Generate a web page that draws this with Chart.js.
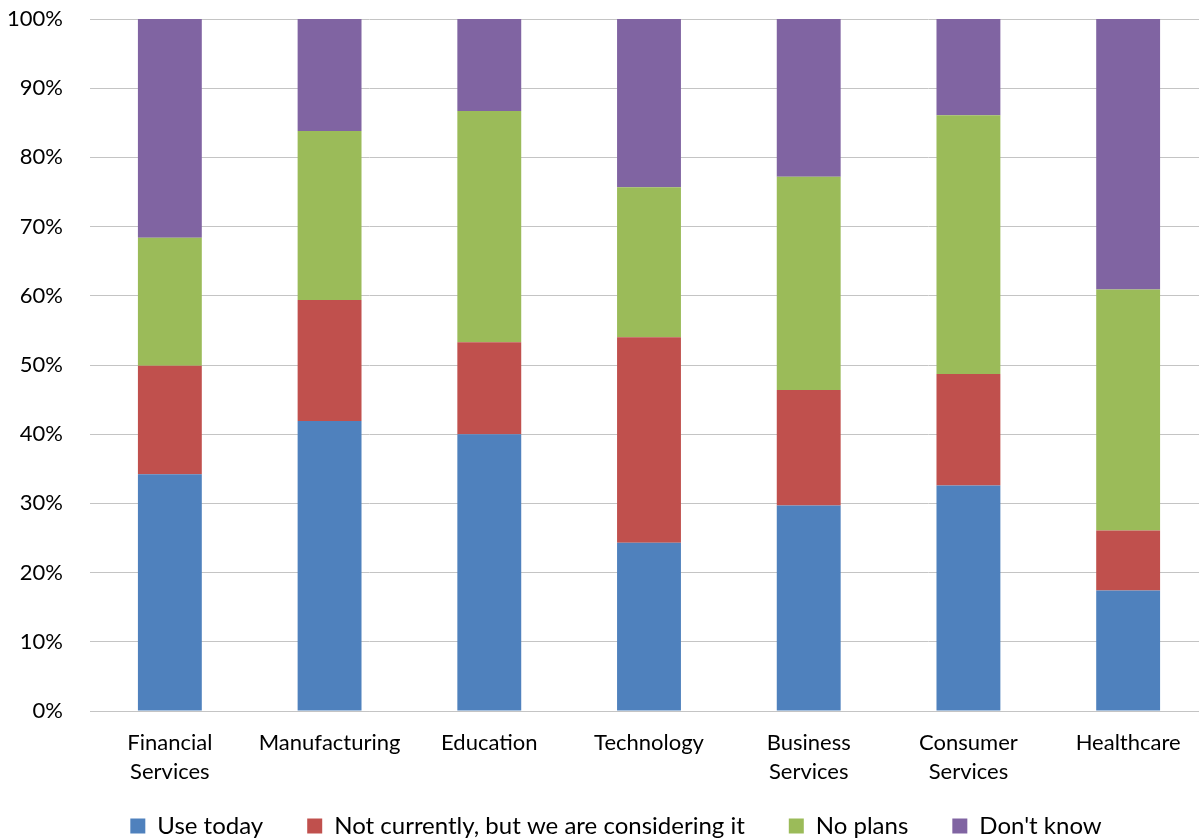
<!DOCTYPE html>
<html>
<head>
<meta charset="utf-8">
<script src="https://cdn.jsdelivr.net/npm/chart.js@4/dist/chart.umd.min.js"></script>
<style>
  html, body { margin: 0; padding: 0; background: #fff; overflow: hidden; }
  #wrap { width: 1208px; height: 839px; position: relative; }
</style>
</head>
<body>
<div id="wrap"><canvas id="c"></canvas></div>
<script>
// Industry categories (multi-line labels where the name wraps)
const categories = [
  ['Financial', 'Services'],
  'Manufacturing',
  'Education',
  'Technology',
  ['Business', 'Services'],
  ['Consumer', 'Services'],
  'Healthcare'
];

// Share of respondents per industry, in percent
const useToday        = [34.2, 41.9, 40.0, 24.3, 29.7, 32.6, 17.4];
const considering     = [15.7, 17.5, 13.3, 29.7, 16.7, 16.1,  8.7];
const noPlans         = [18.5, 24.4, 33.4, 21.7, 30.8, 37.4, 34.8];
const dontKnow        = [31.6, 16.2, 13.3, 24.3, 22.8, 13.9, 39.1];

const seriesNames = ['Use today', 'Not currently, but we are considering it', 'No plans', "Don't know"];
const seriesColors = ['#4F81BD', '#C0504D', '#9BBB59', '#8064A2'];

const FONT = 'Lato, "Open Sans", sans-serif';

const datasets = [useToday, considering, noPlans, dontKnow].map((vals, i) => ({
  label: seriesNames[i],
  data: vals,
  backgroundColor: seriesColors[i],
  borderWidth: 0,
  barPercentage: 0.4,
  categoryPercentage: 1.0
}));

// Nudge the bottom legend: centred under the whole figure, pulled up a little
const legendShift = {
  id: 'legendShift',
  afterLayout(chart) {
    const lg = chart.legend;
    if (lg) {
      lg.left += 12; lg.right += 12;
      lg.top -= 16;
      lg.bottom = chart.height;
    }
  }
};

new Chart(document.getElementById('c'), {
  type: 'bar',
  data: { labels: categories, datasets },
  plugins: [legendShift],
  options: {
    responsive: true,
    maintainAspectRatio: false,
    animation: false,
    layout: { padding: { top: 19, left: 0, right: 0, bottom: 0 } },
    plugins: {
      tooltip: { enabled: false },
      legend: {
        position: 'bottom',
        maxHeight: 53,
        labels: {
          boxWidth: 15,
          boxHeight: 15,
          padding: 44,
          color: '#000',
          font: { family: FONT, size: 24 }
        }
      }
    },
    scales: {
      x: {
        stacked: true,
        afterFit: (s) => { s.height = 75; },
        grid: { display: false, drawTicks: false },
        border: { display: true, color: '#c4c4c4', width: 1 },
        ticks: {
          color: '#000',
          padding: 18,
          maxRotation: 0,
          autoSkip: false,
          font: { family: FONT, size: 22, lineHeight: 1.3 }
        }
      },
      y: {
        stacked: true,
        min: 0,
        max: 100,
        afterFit: (s) => { s.width = 90; },
        grid: { color: '#c4c4c4', lineWidth: 1, drawTicks: true, tickLength: 27, tickColor: 'rgba(0,0,0,0)' },
        border: { display: false },
        ticks: {
          stepSize: 10,
          padding: 0,
          color: '#000',
          font: { family: FONT, size: 22 },
          callback: (v) => v + '%'
        }
      }
    }
  }
});
</script>
</body>
</html>
